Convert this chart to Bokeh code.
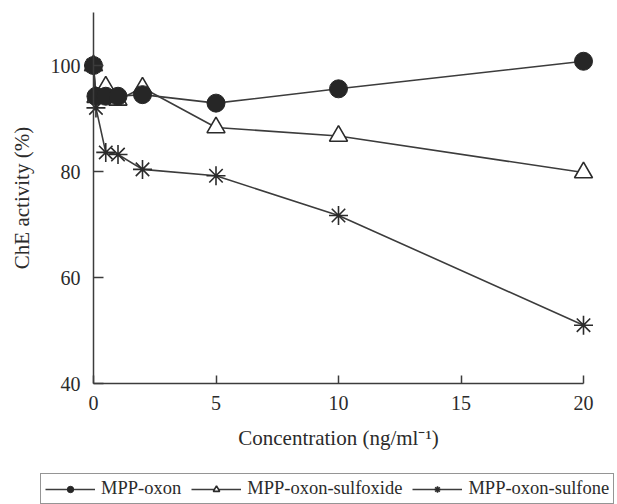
from bokeh.plotting import figure
from bokeh.models import Range1d, Legend, LegendItem, FixedTicker
from bokeh.embed import file_html
from bokeh.resources import INLINE

# ---- data ----
conc = [0, 0.1, 0.5, 1, 2, 5, 10, 20]
mpp_oxon = [100, 94.2, 94.2, 94.2, 94.5, 92.9, 95.6, 100.8]
mpp_sulfoxide = [100, 94.0, 96.0, 93.5, 95.8, 88.3, 86.7, 79.8]
mpp_sulfone = [100, 92.0, 83.6, 83.2, 80.4, 79.2, 71.7, 51.0]
x_ticks = [0, 5, 10, 15, 20]
y_ticks = [40, 60, 80, 100]
labels = ["MPP-oxon", "MPP-oxon-sulfoxide", "MPP-oxon-sulfone"]

# ---- layout (pixels) ----
W, H = 617, 504
ax_x0_px, px_per_x = 93, 24.5
ax_y40_px, px_per_y = 383, 5.3

# the frame covers the whole canvas so that axes drawn at fixed
# locations (and the legend) are not clipped
x_start = (0 - ax_x0_px) / px_per_x
x_end = (W - ax_x0_px) / px_per_x
y_end = 40 + ax_y40_px / px_per_y
y_start = 40 - (H - ax_y40_px) / px_per_y

FONT = '"Liberation Serif", serif'
INK = "#2b2b2b"
LINE = "#3c3c3c"

p = figure(width=W, height=H, title=None,
           x_range=Range1d(x_start, x_end), y_range=Range1d(y_start, y_end),
           output_backend="svg", toolbar_location=None,
           min_border_left=0, min_border_right=0,
           min_border_top=0, min_border_bottom=0)
p.outline_line_color = None
p.xgrid.visible = False
p.ygrid.visible = False
p.background_fill_color = "white"
p.border_fill_color = "white"

for ax in (p.xaxis[0], p.yaxis[0]):
    ax.axis_line_color = LINE
    ax.axis_line_width = 1.5
    ax.major_tick_line_color = LINE
    ax.major_tick_line_width = 1.5
    ax.major_tick_out = 0
    ax.minor_tick_line_color = None
    ax.major_label_text_font = FONT
    ax.major_label_text_font_size = "20px"
    ax.major_label_text_color = INK
    ax.axis_label_text_font = FONT
    ax.axis_label_text_font_size = "21px"
    ax.axis_label_text_font_style = "normal"
    ax.axis_label_text_color = INK

xa = p.xaxis[0]
xa.ticker = FixedTicker(ticks=x_ticks)
xa.bounds = (0, 20)
xa.fixed_location = 40
xa.major_tick_in = 8
xa.major_label_standoff = 12
xa.axis_label = "Concentration (ng/ml\u207b\u00b9)"
xa.axis_label_standoff = 13

ya = p.yaxis[0]
ya.ticker = FixedTicker(ticks=y_ticks)
ya.bounds = (40, 110)
ya.fixed_location = 0
ya.major_tick_in = 10
ya.major_label_standoff = 13
ya.axis_label = "ChE activity (%)"
ya.axis_label_standoff = 14

# ---- series ----
l1 = p.line(conc, mpp_oxon, line_color=LINE, line_width=1.6)
l2 = p.line(conc, mpp_sulfoxide, line_color=LINE, line_width=1.6)
l3 = p.line(conc, mpp_sulfone, line_color=LINE, line_width=1.6)

m2 = p.scatter(conc, mpp_sulfoxide, marker="triangle", size=18,
               fill_color="white", line_color=INK, line_width=1.6)
m3 = p.scatter(conc, mpp_sulfone, marker="asterisk", size=19,
               line_color=INK, line_width=1.6)
m1 = p.scatter(conc, mpp_oxon, marker="circle", size=18,
               fill_color="#262626", line_color="#262626")

legend = Legend(items=[LegendItem(label=labels[0], renderers=[l1, m1]),
                       LegendItem(label=labels[1], renderers=[l2, m2]),
                       LegendItem(label=labels[2], renderers=[l3, m3])],
                orientation="horizontal", location=(40, 0),
                glyph_width=50, glyph_height=16, label_standoff=6,
                spacing=10, padding=4, margin=0,
                label_text_font=FONT, label_text_font_size="18.5px",
                label_text_color=INK,
                border_line_color=INK, border_line_width=1.5,
                background_fill_color="white", background_fill_alpha=1)
p.add_layout(legend, "center")

open("out.html", "w").write(file_html(p, INLINE))
